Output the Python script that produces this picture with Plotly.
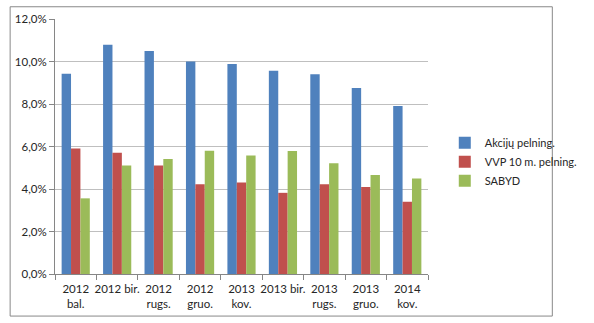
import plotly.graph_objects as go

categories = ["2012<br>bal.", "2012 bir.", "2012<br>rugs.", "2012<br>gruo.", "2013<br>kov.",
              "2013 bir.", "2013<br>rugs.", "2013<br>gruo.", "2014<br>kov."]
akciju = [9.42, 10.79, 10.50, 10.00, 9.88, 9.56, 9.40, 8.75, 7.91]
vvp = [5.91, 5.71, 5.11, 4.22, 4.31, 3.82, 4.22, 4.10, 3.40]
sabyd = [3.56, 5.11, 5.41, 5.80, 5.58, 5.79, 5.21, 4.66, 4.50]

series = [
    ("Akcijų pelning.", akciju, "#4F81BD"),
    ("VVP 10 m. pelning.", vvp, "#C0504D"),
    ("SABYD", sabyd, "#9BBB59"),
]

fig = go.Figure()
for name, vals, color in series:
    fig.add_trace(go.Bar(
        x=categories, y=[v / 100 for v in vals], name=name,
        marker=dict(color=color, line=dict(width=0)),
    ))

font = "Lato, 'Open Sans', sans-serif"
fig.update_layout(
    width=594, height=323,
    margin=dict(l=55, r=140, t=19, b=49),
    paper_bgcolor="white", plot_bgcolor="white",
    barmode="group", bargap=0.32, bargroupgap=0,
    separators=",.",
    font=dict(family=font, size=11, color="#262626"),
    showlegend=True,
    legend=dict(x=1.045, y=0.44, xanchor="left", yanchor="middle",
                font=dict(size=11), itemwidth=30, tracegroupgap=0,
                bgcolor="rgba(0,0,0,0)"),
    xaxis=dict(showline=True, linecolor="#868686", linewidth=1,
               ticks="outside", tickson="boundaries", ticklen=5, tickcolor="#868686",
               showgrid=False, tickangle=0, ticklabelstandoff=4,
               tickfont=dict(size=11.5)),
    yaxis=dict(range=[0, 0.12], tickvals=[0, 0.02, 0.04, 0.06, 0.08, 0.10, 0.12],
               tickformat=".1%", showgrid=True, gridcolor="#BFBFBF", gridwidth=1,
               showline=True, linecolor="#868686", linewidth=1,
               ticks="outside", ticklen=5, tickcolor="#868686",
               zeroline=False, tickfont=dict(size=11.5)),
    shapes=[dict(type="rect", xref="paper", yref="paper",
                 x0=-0.1203, x1=1.3333, y0=-0.165, y1=1.048,
                 line=dict(color="#888888", width=1), fillcolor="rgba(0,0,0,0)")],
)

fig.write_html("out.html")
